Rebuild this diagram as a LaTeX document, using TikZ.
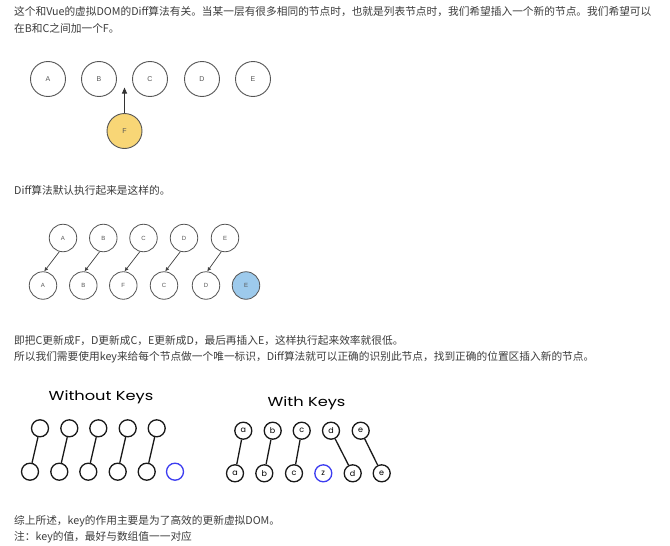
\documentclass[tikz,border=0pt]{standalone}
\usepackage{fontspec}
\setmainfont{Liberation Sans}
\newfontfamily\cjk{Noto Sans CJK SC}
\newfontfamily\hand{Poppins}
\usetikzlibrary{arrows.meta}
\definecolor{txt}{HTML}{3C3C3C}
\definecolor{ring}{HTML}{555555}
\definecolor{fyel}{HTML}{F8D676}
\definecolor{eblue}{HTML}{9DCAEC}
\definecolor{kblue}{HTML}{3C3CF0}
\tikzset{
  para/.style={anchor=west,inner sep=0pt,text=txt,font=\cjk\fontsize{10.7}{13}\selectfont},
  cone/.style={circle,draw=ring,line width=0.9pt,minimum size=35pt,inner sep=0pt,text=ring,font=\fontsize{7}{8}\selectfont},
  ctwo/.style={circle,draw=ring,line width=0.8pt,minimum size=27.5pt,inner sep=0pt,text=ring,font=\fontsize{6}{7}\selectfont},
  arrone/.style={draw=black!80,line width=0.9pt,-{Triangle[length=6pt,width=5pt]}},
  arrtwo/.style={draw=black!75,line width=0.7pt,-{Latex[length=4pt,width=4pt]}},
  kc/.style={circle,draw=black!90,line width=1.3pt,minimum size=17pt,inner sep=0pt,font=\hand\fontsize{8}{8}\selectfont},
  kline/.style={draw=black!90,line width=1.3pt},
  ktitle/.style={inner sep=0pt,xscale=1.25,font=\hand\fontsize{13}{13}\selectfont,text=black}
}
\begin{document}
\begin{tikzpicture}[x=1pt,y=-1pt]
\useasboundingbox (0,0) rectangle (670,546);
\fill[white] (0,0) rectangle (670,546);

% paragraphs
\node[para] (p1) at (14,12) {这个和Vue的虚拟DOM的Diff算法有关。当某一层有很多相同的节点时，也就是列表节点时，我们希望插入一个新的节点。我们希望可以};
\node[para] (p2) at (14,28.5) {在B和C之间加一个F。};
\node[para] (p3) at (14,190) {Diff算法默认执行起来是这样的。};
\node[para] (p4) at (14,341) {即把C更新成F，D更新成C，E更新成D，最后再插入E，这样执行起来效率就很低。};
\node[para] (p5) at (14,357.5) {所以我们需要使用key来给每个节点做一个唯一标识，Diff算法就可以正确的识别此节点，找到正确的位置区插入新的节点。};
\node[para] (p6) at (14,521.5) {综上所述，key的作用主要是为了高效的更新虚拟DOM。};
\node[para] (p7) at (14,537.5) {注：key的值，最好与数组值一一对应};

% diagram 1
\node[cone] (A1) at (48,79) {A};
\node[cone] (B1) at (99,79) {B};
\node[cone] (C1) at (150,79) {C};
\node[cone] (D1) at (202,79) {D};
\node[cone] (E1) at (253,79) {E};
\node[cone,fill=fyel] (F1) at (124.5,131) {F};
\coordinate (ins) at (124.5,87.5);
\draw[arrone] (F1.north) -- (ins);

% diagram 2
\node[ctwo] (tA) at (63,238) {A};
\node[ctwo] (tB) at (103.3,238) {B};
\node[ctwo] (tC) at (143.5,238) {C};
\node[ctwo] (tD) at (184,238) {D};
\node[ctwo] (tE) at (225,238) {E};
\node[ctwo] (bA) at (43,285.5) {A};
\node[ctwo] (bB) at (83.3,285.5) {B};
\node[ctwo] (bF) at (123.3,285.5) {F};
\node[ctwo] (bC) at (164,285.5) {C};
\node[ctwo] (bD) at (206,285.5) {D};
\node[ctwo,fill=eblue] (bE) at (246,285.5) {E};
\draw[arrtwo] (tA.255) -- (bA.85);
\draw[arrtwo] (tB.255) -- (bB.85);
\draw[arrtwo] (tC.255) -- (bF.85);
\draw[arrtwo] (tD.255) -- (bC.85);
\draw[arrtwo] (tE.255) -- (bD.85);

% without keys
\node[ktitle] (wo) at (101,397) {Without Keys};
\node[kc] (w1) at (40,428.3) {};
\node[kc] (w2) at (69.3,428.3) {};
\node[kc] (w3) at (98.3,428.3) {};
\node[kc] (w4) at (127.7,428.3) {};
\node[kc] (w5) at (156.7,428.3) {};
\node[kc] (v1) at (30,471.7) {};
\node[kc] (v2) at (59.3,471.7) {};
\node[kc] (v3) at (88.3,471.7) {};
\node[kc] (v4) at (117.7,471.7) {};
\node[kc] (v5) at (146.7,471.7) {};
\node[kc,draw=kblue] (v6) at (175,471.7) {};
\draw[kline] (w1) -- (v1);
\draw[kline] (w2) -- (v2);
\draw[kline] (w3) -- (v3);
\draw[kline] (w4) -- (v4);
\draw[kline] (w5) -- (v5);

% with keys
\node[ktitle] (wi) at (306.5,403) {With Keys};
\node[kc] (ka) at (243.3,430.7) {a};
\node[kc] (kb) at (272.7,430.7) {b};
\node[kc] (kc) at (301.7,430.7) {c};
\node[kc] (kd) at (331,430.7) {d};
\node[kc] (ke) at (360.7,430.7) {e};
\node[kc] (la) at (235,473.3) {a};
\node[kc] (lb) at (264.3,473.3) {b};
\node[kc] (lc) at (294,473.3) {c};
\node[kc,draw=kblue] (lz) at (323.3,473.3) {z};
\node[kc] (ld) at (352.7,473.3) {d};
\node[kc] (le) at (381.7,473.3) {e};
\draw[kline] (ka) -- (la);
\draw[kline] (kb) -- (lb);
\draw[kline] (kc) -- (lc);
\draw[kline] (kd) -- (ld);
\draw[kline] (ke) -- (le);
\end{tikzpicture}
\end{document}
